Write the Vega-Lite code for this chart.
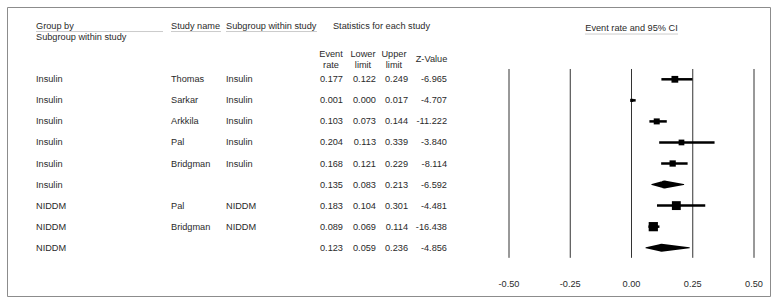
{
  "$schema": "https://vega.github.io/schema/vega-lite/v6.json",
  "width": 777,
  "height": 304,
  "autosize": {"type": "fit", "contains": "padding"},
  "padding": {"left": 7, "top": 7, "right": 7, "bottom": 8},
  "background": "white",
  "config": {
    "view": {"stroke": "#8c8c8c", "strokeWidth": 1},
    "text": {"font": "Liberation Sans", "fontSize": 9.2, "fill": "#2a2a2a", "baseline": "middle"},
    "locale": {"number": {"decimal": ".", "thousands": ",", "grouping": [3], "currency": ["$", ""], "minus": "-"}}
  },
  "datasets": {
    "studies": [
      {"row": 1, "group": "Insulin", "study": "Thomas", "subgroup": "Insulin", "rate": 0.177, "lower": 0.122, "upper": 0.249, "z": -6.965, "kind": "study", "weight": 28},
      {"row": 2, "group": "Insulin", "study": "Sarkar", "subgroup": "Insulin", "rate": 0.001, "lower": 0.000, "upper": 0.017, "z": -4.707, "kind": "study", "weight": 6},
      {"row": 3, "group": "Insulin", "study": "Arkkila", "subgroup": "Insulin", "rate": 0.103, "lower": 0.073, "upper": 0.144, "z": -11.222, "kind": "study", "weight": 22},
      {"row": 4, "group": "Insulin", "study": "Pal", "subgroup": "Insulin", "rate": 0.204, "lower": 0.113, "upper": 0.339, "z": -3.840, "kind": "study", "weight": 20},
      {"row": 5, "group": "Insulin", "study": "Bridgman", "subgroup": "Insulin", "rate": 0.168, "lower": 0.121, "upper": 0.229, "z": -8.114, "kind": "study", "weight": 24},
      {"row": 6, "group": "Insulin", "study": "", "subgroup": "", "rate": 0.135, "lower": 0.083, "upper": 0.213, "z": -6.592, "kind": "summary", "weight": 100},
      {"row": 7, "group": "NIDDM", "study": "Pal", "subgroup": "NIDDM", "rate": 0.183, "lower": 0.104, "upper": 0.301, "z": -4.481, "kind": "study", "weight": 48},
      {"row": 8, "group": "NIDDM", "study": "Bridgman", "subgroup": "NIDDM", "rate": 0.089, "lower": 0.069, "upper": 0.114, "z": -16.438, "kind": "study", "weight": 52},
      {"row": 9, "group": "NIDDM", "study": "", "subgroup": "", "rate": 0.123, "lower": 0.059, "upper": 0.236, "z": -4.856, "kind": "summary", "weight": 100}
    ],
    "ticks": [{"t": -0.5}, {"t": -0.25}, {"t": 0}, {"t": 0.25}, {"t": 0.5}],
    "one": [{}]
  },
  "resolve": {"scale": {"size": "independent"}},
  "layer": [
    {
      "data": {"name": "ticks"},
      "mark": {"type": "rule", "color": "#333333", "strokeWidth": 1},
      "encoding": {
        "x": {"field": "t", "type": "quantitative", "scale": {"domain": [-2.549, 0.5653], "nice": false, "zero": false}, "axis": null},
        "y": {"datum": 0.51, "type": "quantitative", "scale": {"domain": [-2.4347, 11.294], "reverse": true, "nice": false, "zero": false}, "axis": null},
        "y2": {"datum": 9.48}
      }
    },
    {
      "data": {"name": "ticks"},
      "mark": {"type": "text", "align": "center"},
      "encoding": {
        "x": {"field": "t", "type": "quantitative"},
        "y": {"datum": 10.725, "type": "quantitative"},
        "text": {"field": "t", "type": "quantitative", "format": ".2f"}
      }
    },
    {
      "data": {"name": "studies"},
      "transform": [{"filter": "datum.kind === 'study'"}],
      "mark": {"type": "rule", "color": "#000000", "strokeWidth": 2.5},
      "encoding": {
        "x": {"field": "lower", "type": "quantitative"},
        "x2": {"field": "upper"},
        "y": {"field": "row", "type": "quantitative"}
      }
    },
    {
      "data": {"name": "studies"},
      "transform": [{"filter": "datum.kind === 'study'"}],
      "mark": {"type": "point", "shape": "square", "filled": true, "color": "#000000", "opacity": 1},
      "encoding": {
        "x": {"field": "rate", "type": "quantitative"},
        "y": {"field": "row", "type": "quantitative"},
        "size": {"field": "weight", "type": "quantitative", "scale": {"domain": [0, 100], "range": [0, 164]}, "legend": null}
      }
    },
    {
      "data": {"name": "studies"},
      "transform": [
        {"filter": "datum.kind === 'summary'"},
        {"fold": ["lower", "rate", "upper"], "as": ["k", "v"]}
      ],
      "mark": {"type": "trail", "color": "#000000"},
      "encoding": {
        "x": {"field": "v", "type": "quantitative"},
        "y": {"field": "row", "type": "quantitative"},
        "detail": {"field": "group"},
        "order": {"field": "v", "type": "quantitative"},
        "size": {"condition": {"test": "datum.k === 'rate'", "value": 8}, "value": 0}
      }
    },
    {
      "data": {"name": "studies"},
      "mark": {"type": "text", "align": "left"},
      "encoding": {"x": {"datum": -2.4306}, "y": {"field": "row", "type": "quantitative"}, "text": {"field": "group"}}
    },
    {
      "data": {"name": "studies"},
      "mark": {"type": "text", "align": "left"},
      "encoding": {"x": {"datum": -1.8796}, "y": {"field": "row", "type": "quantitative"}, "text": {"field": "study"}}
    },
    {
      "data": {"name": "studies"},
      "mark": {"type": "text", "align": "left"},
      "encoding": {"x": {"datum": -1.6551}, "y": {"field": "row", "type": "quantitative"}, "text": {"field": "subgroup"}}
    },
    {
      "data": {"name": "studies"},
      "mark": {"type": "text", "align": "right"},
      "encoding": {"x": {"datum": -1.1776}, "y": {"field": "row", "type": "quantitative"}, "text": {"field": "rate", "type": "quantitative", "format": ".3f"}}
    },
    {
      "data": {"name": "studies"},
      "mark": {"type": "text", "align": "right"},
      "encoding": {"x": {"datum": -1.0429}, "y": {"field": "row", "type": "quantitative"}, "text": {"field": "lower", "type": "quantitative", "format": ".3f"}}
    },
    {
      "data": {"name": "studies"},
      "mark": {"type": "text", "align": "right"},
      "encoding": {"x": {"datum": -0.9122}, "y": {"field": "row", "type": "quantitative"}, "text": {"field": "upper", "type": "quantitative", "format": ".3f"}}
    },
    {
      "data": {"name": "studies"},
      "mark": {"type": "text", "align": "right"},
      "encoding": {"x": {"datum": -0.7531}, "y": {"field": "row", "type": "quantitative"}, "text": {"field": "z", "type": "quantitative", "format": ".3f"}}
    },
    {
      "data": {"name": "one"},
      "mark": {"type": "text", "align": "left", "text": "Group by"},
      "encoding": {"x": {"datum": -2.4306}, "y": {"datum": -1.53}}
    },
    {
      "data": {"name": "one"},
      "mark": {"type": "text", "align": "left", "text": "Subgroup within study"},
      "encoding": {"x": {"datum": -2.4306}, "y": {"datum": -0.99}}
    },
    {
      "data": {"name": "one"},
      "mark": {"type": "text", "align": "left", "text": "Study name"},
      "encoding": {"x": {"datum": -1.8796}, "y": {"datum": -1.53}}
    },
    {
      "data": {"name": "one"},
      "mark": {"type": "text", "align": "left", "text": "Subgroup within study"},
      "encoding": {"x": {"datum": -1.6551}, "y": {"datum": -1.53}}
    },
    {
      "data": {"name": "one"},
      "mark": {"type": "text", "align": "left", "text": "Statistics for each study"},
      "encoding": {"x": {"datum": -1.2184}, "y": {"datum": -1.53}}
    },
    {
      "data": {"name": "one"},
      "mark": {"type": "text", "align": "center", "text": ["Event", "rate"], "lineHeight": 11},
      "encoding": {"x": {"datum": -1.2265}, "y": {"datum": -0.211}}
    },
    {
      "data": {"name": "one"},
      "mark": {"type": "text", "align": "center", "text": ["Lower", "limit"], "lineHeight": 11},
      "encoding": {"x": {"datum": -1.0959}, "y": {"datum": -0.211}}
    },
    {
      "data": {"name": "one"},
      "mark": {"type": "text", "align": "center", "text": ["Upper", "limit"], "lineHeight": 11},
      "encoding": {"x": {"datum": -0.9694}, "y": {"datum": -0.211}}
    },
    {
      "data": {"name": "one"},
      "mark": {"type": "text", "align": "center", "text": "Z-Value"},
      "encoding": {"x": {"datum": -0.8163}, "y": {"datum": 0.05}}
    },
    {
      "data": {"name": "one"},
      "mark": {"type": "text", "align": "center", "text": "Event rate and 95% CI"},
      "encoding": {"x": {"datum": 0}, "y": {"datum": -1.46}}
    },
    {
      "data": {"name": "one"},
      "mark": {"type": "rule", "color": "#cccccc", "strokeWidth": 1},
      "encoding": {"x": {"datum": -2.4306}, "x2": {"datum": -1.9122}, "y": {"datum": -1.27}}
    },
    {
      "data": {"name": "one"},
      "mark": {"type": "rule", "color": "#cccccc", "strokeWidth": 1},
      "encoding": {"x": {"datum": -1.8796}, "x2": {"datum": -1.6755}, "y": {"datum": -1.27}}
    },
    {
      "data": {"name": "one"},
      "mark": {"type": "rule", "color": "#cccccc", "strokeWidth": 1},
      "encoding": {"x": {"datum": -1.6551}, "x2": {"datum": -1.2837}, "y": {"datum": -1.27}}
    },
    {
      "data": {"name": "one"},
      "mark": {"type": "rule", "color": "#cccccc", "strokeWidth": 1},
      "encoding": {"x": {"datum": -0.19}, "x2": {"datum": 0.19}, "y": {"datum": -1.15}}
    }
  ]
}
